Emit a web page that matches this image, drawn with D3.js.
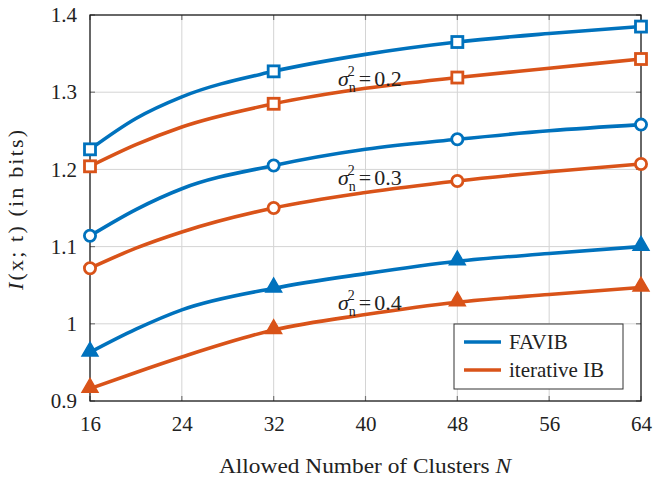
<!DOCTYPE html>
<html>
<head>
<meta charset="utf-8">
<script src="https://cdn.jsdelivr.net/npm/d3@7"></script>
<style>
body { margin: 0; background: #fff; }
text { font-family: "Liberation Serif", "DejaVu Serif", serif; }
</style>
</head>
<body>
<svg width="654" height="479"></svg>
<script>
var clusters = [16, 20, 24, 32, 40, 48, 56, 64];
var markerAt = [16, 32, 48, 64];
var xTicks = [16, 24, 32, 40, 48, 56, 64];
var yTicks = [0.9, 1, 1.1, 1.2, 1.3, 1.4];

// FAVIB, sigma^2 = 0.2 / 0.3 / 0.4
var favib02 = [1.226, 1.266, 1.294, 1.327, 1.349, 1.365, 1.376, 1.385];
var favib03 = [1.114, 1.148, 1.175, 1.205, 1.226, 1.239, 1.250, 1.258];
var favib04 = [0.963, 0.993, 1.018, 1.046, 1.065, 1.081, 1.091, 1.100];
// iterative IB
var iter02 = [1.204, 1.232, 1.255, 1.285, 1.305, 1.319, 1.331, 1.343];
var iter03 = [1.072, 1.098, 1.119, 1.150, 1.170, 1.185, 1.197, 1.207];
var iter04 = [0.916, 0.937, 0.957, 0.992, 1.012, 1.028, 1.038, 1.047];

var noiseLabels = ["0.2", "0.3", "0.4"];
var labelPos = [1.317, 1.189, 1.027];

var blue = "#0072BD", orange = "#D95319";

var svg = d3.select("svg");
var pLeft = 90, pRight = 641, pTop = 15, pBottom = 401;

var x = d3.scaleLinear().domain([16, 64]).range([pLeft, pRight]);
var y = d3.scaleLinear().domain([0.9, 1.4]).range([pBottom, pTop]);

// grid
var grid = svg.append("g");
grid.selectAll("line.gx").data(xTicks).enter().append("line")
  .attr("x1", function(d){return x(d)}).attr("x2", function(d){return x(d)})
  .attr("y1", pTop).attr("y2", pBottom)
  .style("stroke", "#d4d4d4").style("stroke-width", 1);
grid.selectAll("line.gy").data(yTicks).enter().append("line")
  .attr("y1", function(d){return y(d)}).attr("y2", function(d){return y(d)})
  .attr("x1", pLeft).attr("x2", pRight)
  .style("stroke", "#d4d4d4").style("stroke-width", 1);

// axes
var xAxis = d3.axisBottom(x).tickValues(xTicks).tickSize(0).tickPadding(15).tickFormat(d3.format("d"));
var yAxis = d3.axisLeft(y).tickValues(yTicks).tickSize(0).tickPadding(13).tickFormat(function(d){return d == 1 ? "1" : d3.format(".1f")(d)});
svg.append("g").attr("transform", "translate(0," + pBottom + ")").call(xAxis)
  .call(function(g){ g.select(".domain").remove(); })
  .selectAll("text").style("font-size", "21px").style("fill", "#222");
svg.append("g").attr("transform", "translate(" + pLeft + ",0)").call(yAxis)
  .call(function(g){ g.select(".domain").remove(); })
  .selectAll("text").style("font-size", "21px").style("fill", "#222");

// inward ticks on all four sides
var tk = svg.append("g").style("stroke", "#777").style("stroke-width", 1.2);
xTicks.forEach(function(t){
  tk.append("line").attr("x1", x(t)).attr("x2", x(t)).attr("y1", pBottom).attr("y2", pBottom - 5);
  tk.append("line").attr("x1", x(t)).attr("x2", x(t)).attr("y1", pTop).attr("y2", pTop + 5);
});
yTicks.forEach(function(t){
  tk.append("line").attr("x1", pLeft).attr("x2", pLeft + 5).attr("y1", y(t)).attr("y2", y(t));
  tk.append("line").attr("x1", pRight).attr("x2", pRight - 5).attr("y1", y(t)).attr("y2", y(t));
});

svg.append("rect").attr("x", pLeft).attr("y", pTop).attr("width", pRight - pLeft).attr("height", pBottom - pTop)
  .style("fill", "none").style("stroke", "#111").style("stroke-width", 1.2);

var line = d3.line().x(function(d){return x(d[0])}).y(function(d){return y(d[1])}).curve(d3.curveMonotoneX);

var series = [
  {v: favib02, c: blue, m: "square"}, {v: iter02, c: orange, m: "square"},
  {v: favib03, c: blue, m: "circle"}, {v: iter03, c: orange, m: "circle"},
  {v: favib04, c: blue, m: "triangle"}, {v: iter04, c: orange, m: "triangle"}
];

var plot = svg.append("g");
series.forEach(function(s){
  var pts = clusters.map(function(n, i){return [n, s.v[i]]});
  plot.append("path").datum(pts).attr("d", line)
    .style("fill", "none").style("stroke", s.c).style("stroke-width", 3.6);
  var mk = pts.filter(function(p){return markerAt.indexOf(p[0]) >= 0});
  mk.forEach(function(p){
    var cx = x(p[0]), cy = y(p[1]);
    if (s.m == "square") {
      plot.append("rect").attr("x", cx - 5.5).attr("y", cy - 5.5).attr("width", 11).attr("height", 11)
        .style("fill", "#fff").style("stroke", s.c).style("stroke-width", 2.8);
    } else if (s.m == "circle") {
      plot.append("circle").attr("cx", cx).attr("cy", cy).attr("r", 5.6)
        .style("fill", "#fff").style("stroke", s.c).style("stroke-width", 2.8);
    } else {
      plot.append("path").attr("d", d3.symbol().type(d3.symbolTriangle).size(110)())
        .attr("transform", "translate(" + cx + "," + (cy - 1) + ")")
        .style("fill", s.c).style("stroke", s.c).style("stroke-width", 1.5);
    }
  });
});

// sigma labels
noiseLabels.forEach(function(lab, i){
  var t = svg.append("text").attr("x", 338).attr("y", y(labelPos[i]) + 7).style("font-size", "22px").style("fill", "#222");
  t.append("tspan").style("font-style", "italic").text("σ");
  t.append("tspan").attr("dy", 6).style("font-size", "14px").attr("dx", 0).text("n");
  t.append("tspan").attr("dy", -16).attr("dx", -8).style("font-size", "14px").text("2");
  t.append("tspan").attr("dy", 10).attr("dx", 4).text("=");
  t.append("tspan").attr("dx", 3).text(lab);
});

// legend
var lg = svg.append("g");
lg.append("rect").attr("x", 454).attr("y", 324).attr("width", 169).attr("height", 65)
  .style("fill", "#fff").style("stroke", "#333").style("stroke-width", 1);
var legendNames = ["FAVIB", "iterative IB"];
legendNames.forEach(function(name, i){
  var ly = 342 + i * 28;
  lg.append("line").attr("x1", 464).attr("x2", 501).attr("y1", ly).attr("y2", ly)
    .style("stroke", i == 0 ? blue : orange).style("stroke-width", 3.6);
  lg.append("text").attr("x", 509).attr("y", ly + 7).style("font-size", "21px").style("fill", "#222").text(name);
});

// axis titles
var xt = svg.append("text").attr("x", 365).attr("y", 473).attr("text-anchor", "middle")
  .attr("textLength", 292).attr("lengthAdjust", "spacingAndGlyphs")
  .style("font-size", "21px").style("fill", "#222");
xt.append("tspan").text("Allowed Number of Clusters ");
xt.append("tspan").style("font-style", "italic").text("N");

var yt = svg.append("text").attr("transform", "translate(23,210) rotate(-90)").attr("text-anchor", "middle")
  .attr("textLength", 160).attr("lengthAdjust", "spacing")
  .style("font-size", "22px").style("fill", "#222");
yt.append("tspan").style("font-style", "italic").text("I");
yt.append("tspan").text("(x; t) (in bits)");
</script>
</body>
</html>
